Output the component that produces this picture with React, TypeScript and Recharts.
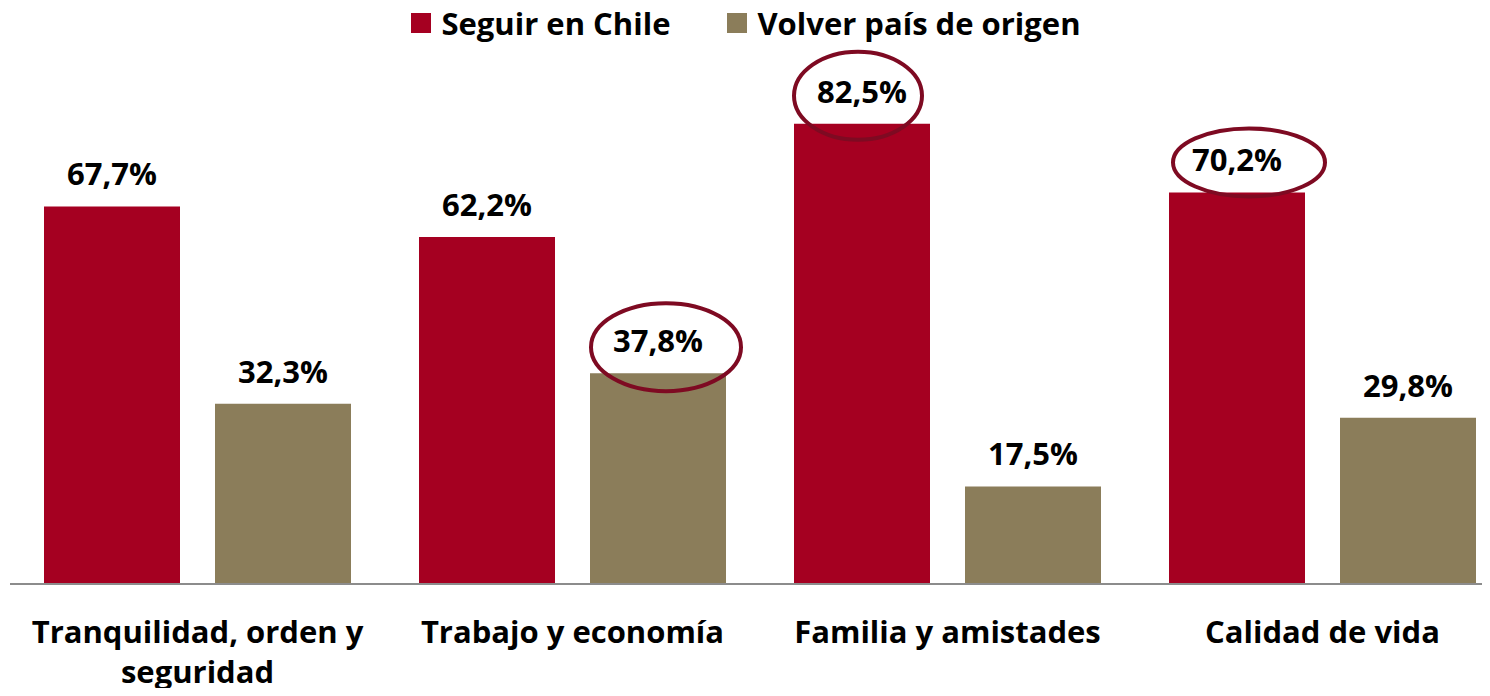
import { BarChart, Bar, XAxis, YAxis, Legend, LabelList } from "recharts";

// Motivos para seguir en Chile vs. volver al país de origen (%)
const categories = [
  "Tranquilidad, orden y seguridad",
  "Trabajo y economía",
  "Familia y amistades",
  "Calidad de vida",
];
const seguirEnChile = [67.7, 62.2, 82.5, 70.2];
const volverPaisOrigen = [32.3, 37.8, 17.5, 29.8];
// which value labels are circled in the original
const seguirCircled = [false, false, true, true];
const volverCircled = [false, true, false, false];
const seriesNames = ["Seguir en Chile", "Volver país de origen"];

const COLORS = ["#A50021", "#8B7D5A"];
const RING = "#7E0A22";
const FONT = "'Open Sans', sans-serif";
const FS = 31;

// hand-drawn rings are not all the same shape: offset from bar top centre + radii
const RING_SHAPE: Record<string, { dx: number; dy: number; rx: number; ry: number }> = {
  "seguir-2": { dx: -4, dy: -28, rx: 64, ry: 44 },
  "seguir-3": { dx: 12, dy: -30, rx: 76, ry: 34 },
  "volver-1": { dx: 8, dy: -26, rx: 75, ry: 44 },
};

const data = categories.map((name, i) => ({
  name,
  seguir: seguirEnChile[i],
  volver: volverPaisOrigen[i],
}));

const fmt = (v: number) => v.toFixed(1).replace(".", ",") + "%";

function wrap(label: string, max: number): string[] {
  const words = label.split(" ");
  const lines: string[] = [];
  let cur = "";
  for (const w of words) {
    const next = cur ? cur + " " + w : w;
    if (next.length > max && cur) {
      lines.push(cur);
      cur = w;
    } else {
      cur = next;
    }
  }
  if (cur) lines.push(cur);
  return lines;
}

function makeValueLabel(key: string, circled: boolean[]) {
  return (props: any) => {
    const { x, y, width, value, index } = props;
    const cx = x + width / 2;
    const ring = circled[index] ? RING_SHAPE[`${key}-${index}`] ?? { dx: 0, dy: -26, rx: 72, ry: 44 } : null;
    return (
      <g>
        <text
          x={cx}
          y={y - 21}
          textAnchor="middle"
          fontFamily={FONT}
          fontSize={FS}
          fontWeight={700}
          fill="#000"
        >
          {fmt(value)}
        </text>
        {ring && (
          <ellipse
            cx={cx + ring.dx}
            cy={y + ring.dy}
            rx={ring.rx}
            ry={ring.ry}
            fill="none"
            stroke={RING}
            strokeWidth={4}
          />
        )}
      </g>
    );
  };
}

function CategoryTick({ x, y, payload }: any) {
  const lines = wrap(payload.value, 22);
  return (
    <text
      x={x}
      y={y}
      textAnchor="middle"
      fontFamily={FONT}
      fontSize={FS}
      fontWeight={700}
      fill="#000"
    >
      {lines.map((l, i) => (
        <tspan key={i} x={x} dy={i === 0 ? 51 : 40}>
          {l}
        </tspan>
      ))}
    </text>
  );
}

function LegendContent() {
  return (
    <div
      style={{
        height: 82,
        display: "flex",
        justifyContent: "center",
        alignItems: "flex-start",
        position: "relative",
        left: -14,
        fontFamily: FONT,
        fontSize: FS,
        fontWeight: 700,
        color: "#000",
      }}
    >
      {seriesNames.map((n, i) => (
        <div
          key={n}
          style={{
            display: "flex",
            alignItems: "center",
            marginRight: i === 0 ? 57 : 0,
            lineHeight: "46px",
          }}
        >
          <span
            style={{
              width: 20,
              height: 20,
              background: COLORS[i],
              marginRight: 10,
              display: "inline-block",
            }}
          />
          <span>{n}</span>
        </div>
      ))}
    </div>
  );
}

export default function App() {
  return (
    <div style={{ margin: -8, width: 1490, height: 696, overflow: "hidden", background: "#fff" }}>
      <BarChart
        width={1520}
        height={696}
        data={data}
        margin={{ top: 0, right: 10, bottom: 0, left: 10 }}
        barCategoryGap={34}
        barGap={35}
      >
        <Legend verticalAlign="top" align="center" content={<LegendContent />} />
        <YAxis hide domain={[0, 90]} />
        <XAxis
          dataKey="name"
          height={112}
          interval={0}
          tickLine={false}
          tick={<CategoryTick />}
          axisLine={{ stroke: "#8C8C8C", strokeWidth: 2 }}
        />
        <Bar dataKey="seguir" name={seriesNames[0]} fill={COLORS[0]} barSize={136} isAnimationActive={false}>
          <LabelList dataKey="seguir" content={makeValueLabel("seguir", seguirCircled)} />
        </Bar>
        <Bar dataKey="volver" name={seriesNames[1]} fill={COLORS[1]} barSize={136} isAnimationActive={false}>
          <LabelList dataKey="volver" content={makeValueLabel("volver", volverCircled)} />
        </Bar>
      </BarChart>
    </div>
  );
}
